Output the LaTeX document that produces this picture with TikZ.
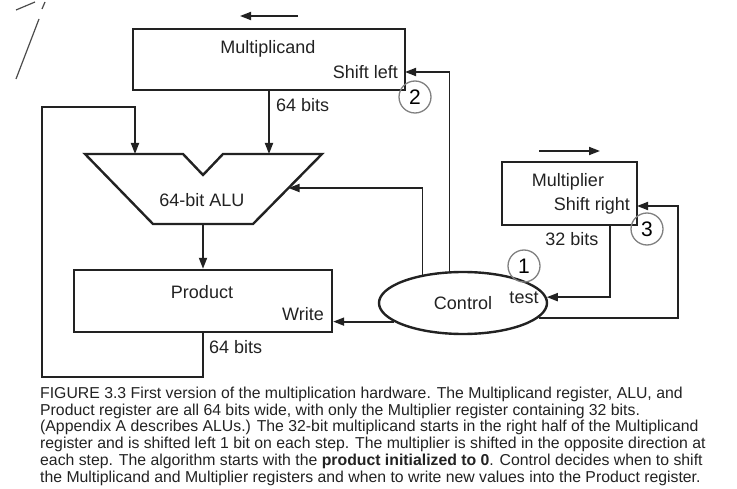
\documentclass[tikz,border=0pt]{standalone}
\usepackage{fontspec}
\setmainfont{Liberation Sans}
\usetikzlibrary{arrows.meta,shapes.geometric}
\definecolor{ink}{HTML}{222222}
\definecolor{ringgray}{HTML}{808080}
\begin{document}
\begin{tikzpicture}[x=1pt,y=-1pt,
  every node/.style={text=ink},
  lbl/.style={font=\fontsize{18}{20}\selectfont, inner sep=0pt},
  reg/.style={draw=ink, line width=2.4pt, rectangle, inner sep=0pt},
  wire/.style={draw=ink, line width=1.8pt},
  arr/.style={wire, -{Triangle[length=11pt,width=8pt]}},
  ring/.style={draw=ringgray, line width=1.3pt, circle, minimum size=32pt, inner sep=0pt,
               font=\fontsize{21}{22}\selectfont, text=black},
  capline/.style={anchor=base west, inner sep=0pt, font=\fontsize{15.8}{17}\selectfont},
  scan/.style={draw=black!70, line width=1.2pt}]
\useasboundingbox (0,0) rectangle (737,489);

% stray pen strokes in the top-left corner
\draw[scan] (16,10) -- (35,2);
\draw[scan] (45,2) -- (42,9);
\draw[scan] (39,19) -- (16,79);

% registers and control
\node[reg, minimum width=272pt, minimum height=61pt] (mcand) at (269,59.5) {};
\node[reg, minimum width=258pt, minimum height=62pt] (prod) at (203,301) {};
\node[reg, minimum width=135pt, minimum height=63pt] (mplier) at (569.5,193.5) {};
\node[draw=ink, line width=2.4pt, ellipse, minimum width=168pt, minimum height=62pt, inner sep=0pt] (ctrl) at (463,303) {};

% the ALU outline with its input notch
\draw[draw=ink, line width=2.4pt, line join=miter]
  (85,154) -- (183,154) -- (203,175) -- (223,154) -- (322,154)
  -- (253,224) -- (153,224) -- cycle;
\coordinate (aluinL) at (135,154);
\coordinate (aluinR) at (269,154);
\coordinate (aluside) at (288.5,188);
\coordinate (aluout) at (203,224);

% shift direction arrows
\coordinate (ldirA) at (298,16);
\coordinate (ldirB) at (240,16);
\coordinate (rdirA) at (539,151);
\coordinate (rdirB) at (600,151);
\draw[arr] (ldirA) -- (ldirB);
\draw[arr] (rdirA) -- (rdirB);

% control inputs of the registers
\coordinate (shl) at (405,72);
\coordinate (shr) at (637,206);
\coordinate (mq) at (610,225);
\coordinate (fb) at (678,0);
\coordinate (loopL) at (42,107);

% data paths
\draw[arr] (mcand.south -| aluinR) -- (aluinR);
\draw[arr] (prod.south) -- ++(0,44) -| (loopL) -| (aluinL);
\draw[arr] (aluout) -- (prod.north);

% control paths
\draw[arr] (ctrl.113) |- (shl);
\draw[arr] (ctrl.145.7) |- (aluside);
\draw[arr] (ctrl.195.6) -- (ctrl.195.6 -| prod.east);
\draw[arr] (mq) |- (ctrl.4.9);
\draw[arr] (ctrl.349.1) -- (ctrl.349.1 -| fb) |- (shr);

% labels
\node[lbl] (tmcand) at (268,49) {Multiplicand};
\node[lbl, anchor=east] (tshl) at (398,72) {Shift left};
\node[lbl, anchor=west] (tb1) at (276,105) {64 bits};
\node[lbl] (talu) at (202,200) {64-bit ALU};
\node[lbl] (tprod) at (202,292) {Product};
\node[lbl, anchor=east] (twr) at (324,314) {Write};
\node[lbl, anchor=west] (tb2) at (209,347) {64 bits};
\node[lbl] (tctrl) at (463,303) {Control};
\node[lbl] (ttest) at (524,298) {test};
\node[lbl] (tmpl) at (568,182) {Multiplier};
\node[lbl, anchor=east] (tshr) at (630,206) {Shift right};
\node[lbl] (tb3) at (572,239) {32 bits};

% step numbers
\node[ring] (s1) at (524,266) {1};
\node[ring] (s2) at (415,97) {2};
\node[ring] (s3) at (647,229) {3};

% caption
\node[capline] (cap1) at (40,398) {FIGURE 3.3 First version of the multiplication hardware. The Multiplicand register, ALU, and};
\node[capline] (cap2) at (40,415) {Product register are all 64 bits wide, with only the Multiplier register containing 32 bits.};
\node[capline] (cap3) at (40,431) {(Appendix A describes ALUs.) The 32-bit multiplicand starts in the right half of the Multiplicand};
\node[capline] (cap4) at (40,448) {register and is shifted left 1 bit on each step. The multiplier is shifted in the opposite direction at};
\node[capline] (cap5) at (40,465) {each step. The algorithm starts with the \textbf{product initialized to 0}. Control decides when to shift};
\node[capline] (cap6) at (40,482) {the Multiplicand and Multiplier registers and when to write new values into the Product register.};
\end{tikzpicture}
\end{document}
